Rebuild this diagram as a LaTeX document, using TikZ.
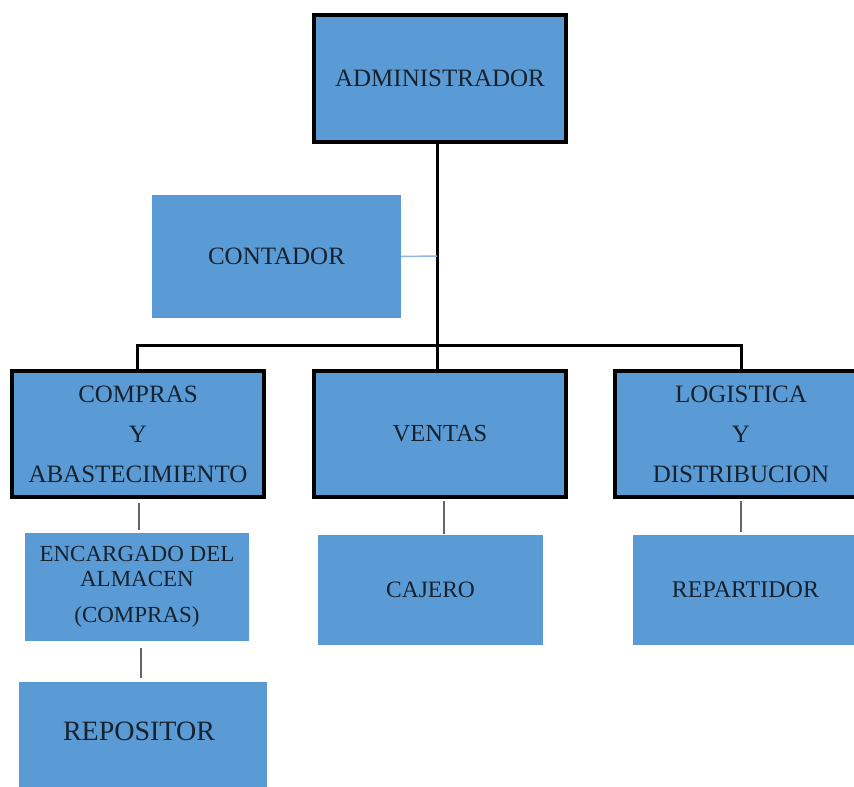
\documentclass[tikz,border=0pt]{standalone}
\usepackage{fontspec}
\setmainfont{Liberation Serif}
\definecolor{boxblue}{HTML}{5B9BD5}
\definecolor{txt}{HTML}{17222E}
\definecolor{thinblue}{HTML}{8FB6DE}
\tikzset{
  mainbox/.style={draw=black, line width=3.5pt, fill=boxblue, inner sep=0pt, text=txt, align=center, font=\fontsize{25}{40}\selectfont},
  subbox/.style={fill=boxblue, inner sep=0pt, text=txt, align=center, font=\fontsize{24}{30}\selectfont},
  topline/.style={draw=black, line width=3pt},
  lowline/.style={draw=black!60, line width=2pt},
  sideline/.style={draw=thinblue, line width=1.5pt}
}
\begin{document}
\begin{tikzpicture}[x=1pt,y=-1pt]
\useasboundingbox (0,0) rectangle (854,787);
\clip (0,0) rectangle (854,787);
\fill[white] (0,0) rectangle (854,787);
% nodes
\node[mainbox, minimum width=252pt, minimum height=127pt] (adm) at (440,78.5) {ADMINISTRADOR};
\node[subbox, minimum width=249pt, minimum height=123pt, font=\fontsize{25}{30}\selectfont] (cont) at (276.5,256.5) {CONTADOR};
\node[mainbox, minimum width=252pt, minimum height=126pt] (comp) at (138,434) {COMPRAS\\Y\\ABASTECIMIENTO};
\node[mainbox, minimum width=252pt, minimum height=126pt, font=\fontsize{24.5}{40}\selectfont] (vent) at (440,434) {VENTAS};
\node[mainbox, minimum width=252pt, minimum height=126pt] (log) at (741,434) {LOGISTICA\\Y\\DISTRIBUCION};
\node[subbox, minimum width=224pt, minimum height=108pt, font=\fontsize{23}{25}\selectfont] (enc) at (137,587) {ENCARGADO DEL\\ALMACEN\\[11pt](COMPRAS)};
\node[subbox, minimum width=225pt, minimum height=110pt, font=\fontsize{23.5}{30}\selectfont] (caj) at (430.5,590) {CAJERO};
\node[subbox, minimum width=225pt, minimum height=110pt] (rep) at (745.5,590) {REPARTIDOR};
\node[subbox, minimum width=248pt, minimum height=110pt] (repo) at (143,737) {};
\node[text=txt, font=\fontsize{28}{30}\selectfont, inner sep=0pt] (repot) at (139,731) {REPOSITOR};
% connectors
\coordinate (bar) at (437,345);
\coordinate (admout) at (437,142);
\coordinate (contj) at (437,256);
\draw[topline] (admout) -- (bar);
\draw[topline] (comp.north -| 137,0) |- (bar) -| (log.north);
\draw[topline] (bar) -- (bar |- vent.north);
\draw[sideline] (cont.east) -- (contj);
\draw[lowline] (139,503) coordinate (c1) -- (139,530) coordinate (c2);
\draw[lowline] (141,648) coordinate (c3) -- (141,678) coordinate (c4);
\draw[lowline] (444,501) coordinate (c5) -- (444,534) coordinate (c6);
\draw[lowline] (741,501) coordinate (c7) -- (741,532) coordinate (c8);
\end{tikzpicture}
\end{document}
